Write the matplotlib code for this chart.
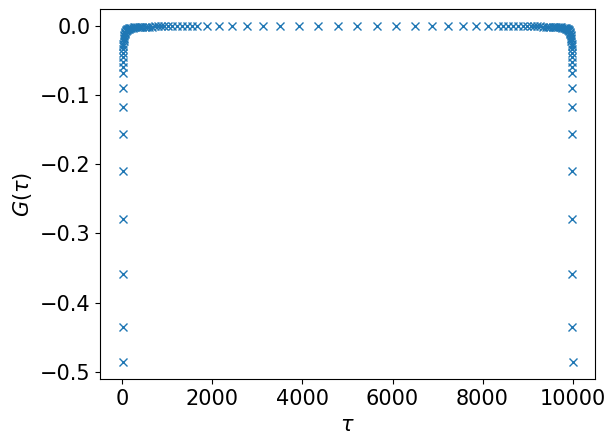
import numpy as np
import matplotlib
matplotlib.use("Agg")
import matplotlib.pyplot as plt

plt.rcParams['font.size'] = 15

# imaginary-time grid, dense near both ends (tau = 0 and tau = beta = 10000)
tau_left = [0.054, 0.285, 0.71, 1.31, 2.1, 3.07, 4.2, 5.57, 7.28, 8.4, 9.7, 11.2,
            12.9, 14.8, 17, 19.5, 22.4, 25.7, 29.5, 34, 39, 45, 52, 60, 69, 79, 91,
            104, 119, 136, 155, 176, 200, 226, 255, 287, 322, 360, 400, 444, 490,
            540, 593, 650, 712, 778, 850, 928, 1012, 1105, 1205, 1315, 1430, 1540]
g_left = [-0.4865, -0.4348, -0.3584, -0.2787, -0.2091, -0.1555, -0.1170, -0.0894,
          -0.0686, -0.0595, -0.0515, -0.0446, -0.0388, -0.0338, -0.0294, -0.0256,
          -0.0223, -0.0195, -0.0169, -0.0147, -0.0128, -0.0111, -0.0096, -0.0083,
          -0.0072, -0.0063, -0.0055, -0.0048, -0.0042, -0.0037, -0.0032, -0.0028,
          -0.0025, -0.0022, -0.0020, -0.0017, -0.0016, -0.0014, -0.0013, -0.0011,
          -0.0010, -0.0009, -0.0008, -0.0008, -0.0007, -0.0006, -0.0006, -0.0005,
          -0.0005, -0.0005, -0.0004, -0.0004, -0.0004, -0.0003]

tau_mid = [1649, 1882, 2148, 2437, 2759, 3114, 3502, 3913, 4343, 4787,
           5213, 5657, 6087, 6498, 6886, 7241, 7563, 7852, 8118, 8351]
g_mid = [-0.0003, -0.0003, -0.0003, -0.0002, -0.0002, -0.0002, -0.0002, -0.0002,
         -0.0002, -0.0002, -0.0002, -0.0002, -0.0002, -0.0002, -0.0002, -0.0002,
         -0.0002, -0.0003, -0.0003, -0.0003]

tau_right = [8460, 8570, 8685, 8795, 8895, 8988, 9072, 9150, 9222, 9288, 9350, 9407,
             9460, 9510, 9556, 9600, 9640, 9678, 9713, 9745, 9774, 9800, 9824, 9845,
             9864, 9881, 9896, 9909, 9921, 9931, 9940, 9948, 9955, 9961, 9966,
             9970.5, 9974.3, 9977.6, 9980.5, 9983, 9985.2, 9987.1, 9988.8, 9990.3,
             9991.6, 9992.72, 9994.43, 9995.8, 9996.93, 9997.9, 9998.69, 9999.29,
             9999.715, 9999.946]
g_right = [-0.0003, -0.0004, -0.0004, -0.0004, -0.0005, -0.0005, -0.0005, -0.0006,
           -0.0006, -0.0007, -0.0008, -0.0008, -0.0009, -0.0010, -0.0011, -0.0013,
           -0.0014, -0.0016, -0.0017, -0.0020, -0.0022, -0.0025, -0.0028, -0.0032,
           -0.0037, -0.0042, -0.0048, -0.0055, -0.0063, -0.0072, -0.0083, -0.0096,
           -0.0111, -0.0128, -0.0147, -0.0169, -0.0195, -0.0223, -0.0256, -0.0294,
           -0.0338, -0.0388, -0.0446, -0.0515, -0.0595, -0.0686, -0.0894, -0.1170,
           -0.1555, -0.2091, -0.2787, -0.3584, -0.4348, -0.4865]

tau = np.concatenate([tau_left, tau_mid, tau_right])
G = np.concatenate([g_left, g_mid, g_right])

fig = plt.figure(figsize=(6.15, 4.44), dpi=100)
ax = fig.add_axes([100/615, 64.7/444, 495/615, 370/444])

ax.plot(tau, G, 'x')
ax.set_xlabel(r"$\tau$")
ax.set_ylabel(r"$G(\tau)$")

fig.savefig("out.png", dpi=100)
